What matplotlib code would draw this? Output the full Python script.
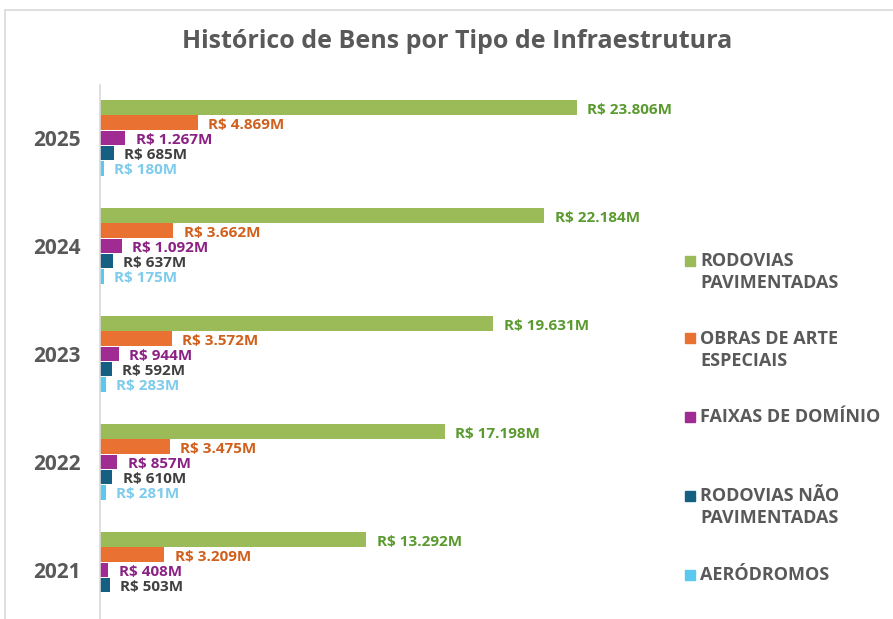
import numpy as np
import matplotlib
matplotlib.use("Agg")
import matplotlib.pyplot as plt
from matplotlib.patches import Rectangle

plt.rcParams['font.family'] = ['Open Sans', 'DejaVu Sans']

# Dados (valores em milhões de R$)
anos = ['2021', '2022', '2023', '2024', '2025']
rodovias_pav = [13292, 17198, 19631, 22184, 23806]
obras_arte = [3209, 3475, 3572, 3662, 4869]
faixas_dominio = [408, 857, 944, 1092, 1267]
rodovias_nao_pav = [503, 610, 592, 637, 685]
aerodromos = [np.nan, 281, 283, 175, 180]

series = [
    ('RODOVIAS\nPAVIMENTADAS', rodovias_pav, '#9bbb59', '#5a9a2e'),
    ('OBRAS DE ARTE\nESPECIAIS', obras_arte, '#e97132', '#d0601c'),
    ('FAIXAS DE DOMÍNIO', faixas_dominio, '#a02b93', '#8b2283'),
    ('RODOVIAS NÃO\nPAVIMENTADAS', rodovias_nao_pav, '#156082', '#404040'),
    ('AERÓDROMOS', aerodromos, '#5bc8ef', '#7ecbeb'),
]

def fmt(v):
    return "R$ " + f"{int(v):,}".replace(",", ".") + "M"

fig = plt.figure(figsize=(8.93, 6.19), dpi=100)
W, H = 893, 619

# moldura do gráfico
fig.patches.append(Rectangle((5 / W, -0.1), 1.2, 1 - 10 / H + 0.1,
                             transform=fig.transFigure, fill=False,
                             edgecolor='#d9d9d9', linewidth=1.2))

ax = fig.add_axes([100 / W, 0, 561 / W, 1 - 85 / H])

y = np.arange(len(anos))
slot = 0.141
height = 0.135
for i, (nome, vals, cor, cor_lbl) in enumerate(series):
    pos = y + (2 - i) * slot
    vals = np.array(vals, dtype=float)
    ok = ~np.isnan(vals)
    ax.barh(pos[ok], vals[ok], height=height, color=cor)
    for p, v in zip(pos[ok], vals[ok]):
        ax.annotate(fmt(v), (v, p), xytext=(7.5, -1.5), textcoords='offset points',
                    va='center', ha='left', fontsize=11, fontweight='bold',
                    color=cor_lbl)

ax.set_xlim(0, 28000)
ax.set_ylim(-0.454, 4.49)
ax.set_yticks(y)
ax.set_yticklabels(anos, fontsize=15, fontweight='bold', color='#595959')
ax.tick_params(axis='y', length=0, pad=14)
ax.set_xticks([])
for s in ['top', 'right', 'bottom']:
    ax.spines[s].set_visible(False)
ax.spines['left'].set_color('#d9d9d9')
ax.spines['left'].set_linewidth(1.2)

fig.text(457 / W, 1 - 42 / H, 'Histórico de Bens por Tipo de Infraestrutura',
         ha='center', va='center', fontsize=18, fontweight='bold', color='#595959')

# legenda
leg_y = [272, 350, 417, 507, 575]
for (nome, vals, cor, cor_lbl), ly in zip(series, leg_y):
    n_lin = nome.count('\n') + 1
    top = ly - (n_lin - 1) * 11.5
    fig.patches.append(Rectangle((685 / W, 1 - (top + 5) / H), 10 / W, 10 / H,
                                 transform=fig.transFigure, color=cor))
    fig.text(700 / W, 1 - ly / H, nome, ha='left', va='center', fontsize=13,
             fontweight='bold', color='#595959', linespacing=1.3)

fig.savefig('out.png', dpi=100)
